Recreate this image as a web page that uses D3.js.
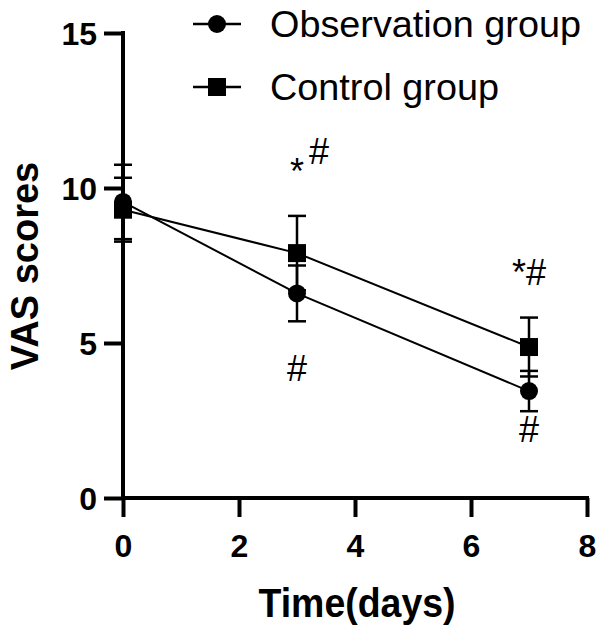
<!DOCTYPE html>
<html>
<head>
<meta charset="utf-8">
<script src="https://cdn.jsdelivr.net/npm/d3@7"></script>
<style>
  html, body { margin: 0; padding: 0; background: #fff; }
  svg { display: block; font-family: "Liberation Sans", Arial, Helvetica, sans-serif; }
</style>
</head>
<body>
<div id="chart"></div>
<script>
// ---- data ----
const days = [0, 3, 7];
const seriesNames = ["Observation group", "Control group"];
const observationMean = [9.55, 6.6, 3.45];
const observationSD   = [1.2, 0.9, 0.65];
const controlMean     = [9.3, 7.9, 4.87];
const controlSD       = [1.03, 1.2, 0.95];
const xTicks = [0, 2, 4, 6, 8];
const yTicks = [0, 5, 10, 15];
const xLabel = "Time(days)";
const yLabel = "VAS scores";
// significance annotations (day, value at text baseline, text)
const annDays   = [3, 3, 7, 7];
const annValues = [10.77, 3.77, 6.87, 1.81];
const annTexts  = ["*#", "#", "*#", "#"];

// ---- layout ----
const W = 600, H = 633;
const svg = d3.select("#chart").append("svg").attr("width", W).attr("height", H);

const x = d3.scaleLinear().domain([0, 8]).range([123, 587]);
const y = d3.scaleLinear().domain([0, 15]).range([498, 33]);

const axisW = 4;
// y axis
const gy = svg.append("g").attr("transform", `translate(${x(0)},0)`)
  .call(d3.axisLeft(y).tickValues(yTicks).tickSize(19).tickPadding(7).tickFormat(d3.format("d")));
// x axis
const gx = svg.append("g").attr("transform", `translate(0,${y(0)})`)
  .call(d3.axisBottom(x).tickValues(xTicks).tickSize(19).tickPadding(8).tickFormat(d3.format("d")));

[gx, gy].forEach(g => {
  g.select(".domain").attr("stroke", "#000").attr("stroke-width", axisW)
    .attr("stroke-linecap", "square");
  g.selectAll(".tick line").attr("stroke", "#000").attr("stroke-width", axisW);
  g.selectAll(".tick text").attr("fill", "#000")
    .style("font-size", "32px").style("font-weight", "bold")
    .style("font-family", "'Liberation Sans', Arial, sans-serif");
});
gy.select(".domain").attr("d", `M0,${y(15)}V${y(0)}`);
gx.select(".domain").attr("d", `M${x(0)},0H${x(8)}`);
gy.selectAll(".tick text").attr("dy", "0.36em");
gx.selectAll(".tick text").attr("dy", "1.0em");

// axis titles
svg.append("text")
  .attr("x", (x(0) + x(8)) / 2 + 2).attr("y", 617)
  .attr("text-anchor", "middle")
  .style("font-size", "40px").style("font-weight", "bold")
  .attr("textLength", 197).attr("lengthAdjust", "spacingAndGlyphs")
  .text(xLabel);

svg.append("text")
  .attr("transform", `translate(38,266) rotate(-90)`)
  .attr("text-anchor", "middle")
  .style("font-size", "38px").style("font-weight", "bold")
  .text(yLabel);

// ---- series ----
const series = [
  { name: seriesNames[0], mean: observationMean, sd: observationSD, shape: "circle" },
  { name: seriesNames[1], mean: controlMean, sd: controlSD, shape: "square" }
];

const line = d3.line().x((d, i) => x(days[i])).y(d => y(d));
const capHalf = 9;

series.forEach(s => {
  const g = svg.append("g");
  days.forEach((d, i) => {
    const cx = x(d), top = y(s.mean[i] + s.sd[i]), bot = y(s.mean[i] - s.sd[i]);
    g.append("line").attr("x1", cx).attr("x2", cx).attr("y1", top).attr("y2", bot)
      .attr("stroke", "#000").attr("stroke-width", 2.5);
    [top, bot].forEach(yy => g.append("line")
      .attr("x1", cx - capHalf).attr("x2", cx + capHalf).attr("y1", yy).attr("y2", yy)
      .attr("stroke", "#000").attr("stroke-width", 2.5));
  });
  g.append("path").datum(s.mean).attr("d", line)
    .attr("fill", "none").attr("stroke", "#000").attr("stroke-width", 2);
});

series.forEach(s => {
  const g = svg.append("g");
  days.forEach((d, i) => {
    if (s.shape === "circle") {
      g.append("circle").attr("cx", x(d)).attr("cy", y(s.mean[i])).attr("r", 9).attr("fill", "#000");
    } else {
      g.append("rect").attr("x", x(d) - 9).attr("y", y(s.mean[i]) - 9)
        .attr("width", 18).attr("height", 18).attr("fill", "#000");
    }
  });
});

// ---- annotations ----
annTexts.forEach((t, i) => {
  const tx = svg.append("text")
    .attr("x", x(annDays[i])).attr("y", y(annValues[i]))
    .style("font-size", "36px").attr("fill", "#000");
  if (t === "*#" && annDays[i] === 3) {
    tx.attr("text-anchor", "start").attr("dx", -7);
    tx.append("tspan").attr("dy", 20).text("*");
    tx.append("tspan").attr("dx", 5).attr("dy", -20).text("#");
  } else {
    tx.attr("text-anchor", "middle").text(t);
  }
});

// ---- legend ----
const legendRows = [24, 87];
series.forEach((s, i) => {
  const ly = legendRows[i];
  const g = svg.append("g");
  g.append("line").attr("x1", 193).attr("x2", 241).attr("y1", ly).attr("y2", ly)
    .attr("stroke", "#000").attr("stroke-width", 2.5);
  if (s.shape === "circle") {
    g.append("circle").attr("cx", 217).attr("cy", ly).attr("r", 9).attr("fill", "#000");
  } else {
    g.append("rect").attr("x", 208).attr("y", ly - 9).attr("width", 18).attr("height", 18).attr("fill", "#000");
  }
  g.append("text").attr("x", 270).attr("y", ly + 13)
    .style("font-size", "36px").attr("fill", "#000")
    .attr("textLength", i === 0 ? 311 : 229).attr("lengthAdjust", "spacingAndGlyphs")
    .text(s.name);
});
</script>
</body>
</html>
